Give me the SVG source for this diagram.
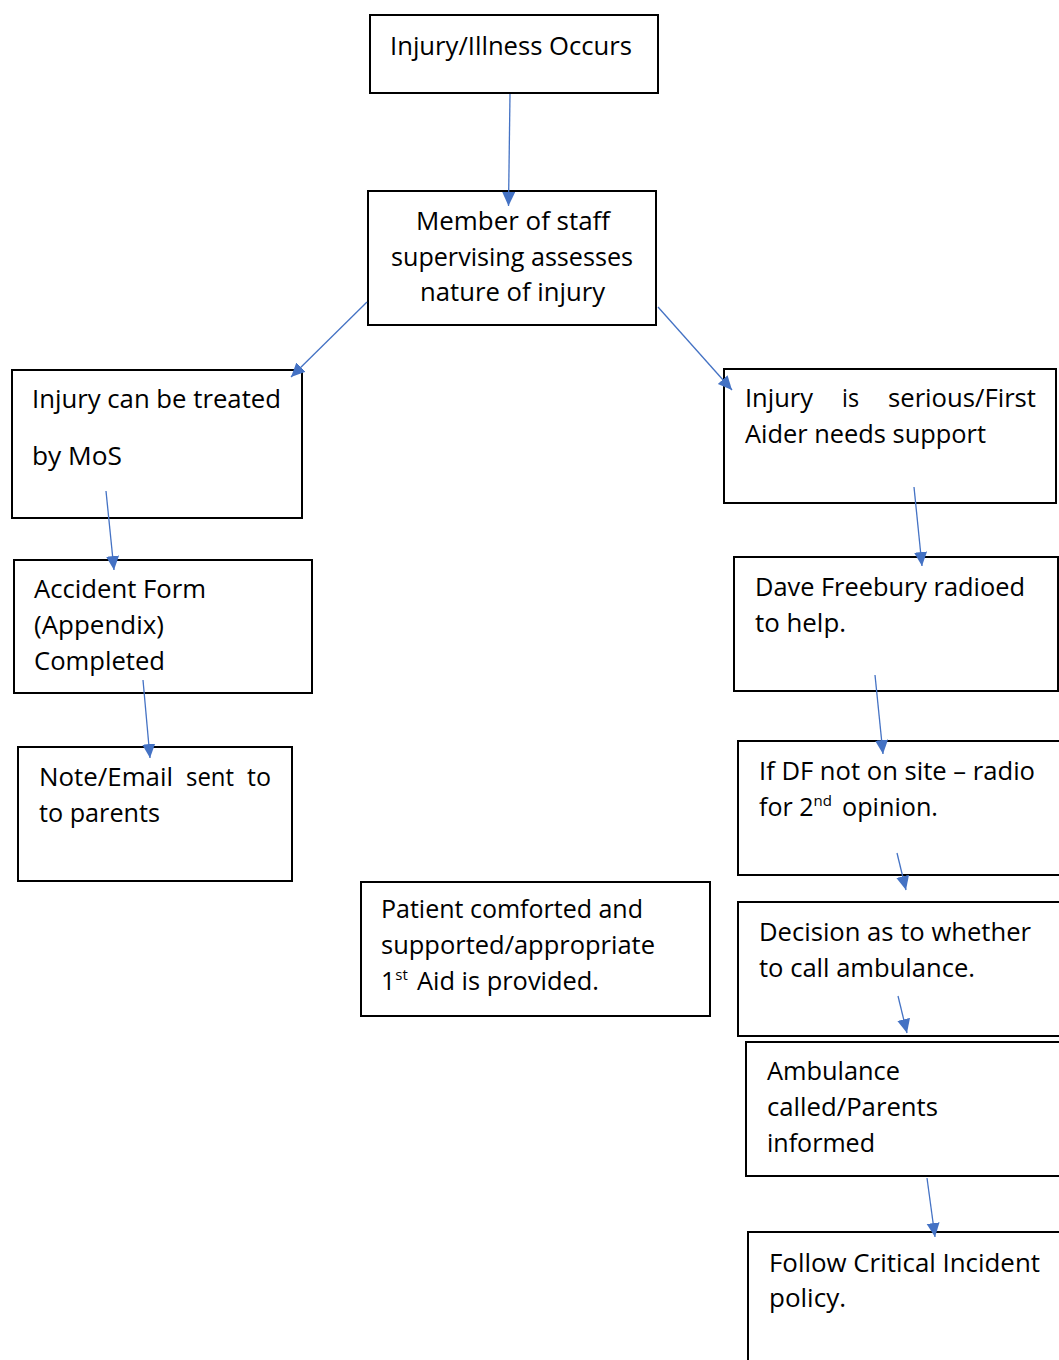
<svg xmlns="http://www.w3.org/2000/svg" width="1059" height="1360" viewBox="0 0 1059 1360">
<defs>
<style>
.box{fill:#fff;stroke:#000;stroke-width:2}
.t{font-family:"Open Sans","Noto Sans","Liberation Sans",sans-serif;font-size:25px;fill:#000}
.sup{font-family:"Open Sans","Noto Sans","Liberation Sans",sans-serif;font-size:15px;fill:#000}
.c{stroke:#4472C4;stroke-width:1.3;fill:none;marker-end:url(#ah)}
</style>
<marker id="ah" markerUnits="userSpaceOnUse" markerWidth="16" markerHeight="14" refX="14" refY="6.5" orient="auto">
<path d="M0,0 L14,6.5 L0,13 Z" fill="#4472C4"/>
</marker>
</defs>
<rect width="1059" height="1360" fill="#fff"/>

<g id="n1">
<rect class="box" x="370" y="15" width="288" height="78"/>
<text class="t" x="390" y="55" textLength="242" lengthAdjust="spacingAndGlyphs">Injury/Illness Occurs</text>
</g>

<g id="n2">
<rect class="box" x="368" y="191" width="288" height="134"/>
<text class="t" x="416" y="230" textLength="194" lengthAdjust="spacingAndGlyphs">Member of staff</text>
<text class="t" x="391" y="266" textLength="242" lengthAdjust="spacingAndGlyphs">supervising assesses</text>
<text class="t" x="420" y="301" textLength="185" lengthAdjust="spacingAndGlyphs">nature of injury</text>
</g>

<g id="n3">
<rect class="box" x="12" y="370" width="290" height="148"/>
<text class="t" x="32" y="408" textLength="249" lengthAdjust="spacingAndGlyphs">Injury can be treated</text>
<text class="t" x="32" y="465" textLength="90" lengthAdjust="spacingAndGlyphs">by MoS</text>
</g>

<g id="n4">
<rect class="box" x="14" y="560" width="298" height="133"/>
<text class="t" x="34" y="598" textLength="172" lengthAdjust="spacingAndGlyphs">Accident Form</text>
<text class="t" x="34" y="634" textLength="130" lengthAdjust="spacingAndGlyphs">(Appendix)</text>
<text class="t" x="34" y="670" textLength="131" lengthAdjust="spacingAndGlyphs">Completed</text>
</g>

<g id="n5">
<rect class="box" x="18" y="747" width="274" height="134"/>
<text class="t" x="39" y="786" textLength="134" lengthAdjust="spacingAndGlyphs">Note/Email</text>
<text class="t" x="186" y="786" textLength="48" lengthAdjust="spacingAndGlyphs">sent</text>
<text class="t" x="247" y="786" textLength="24" lengthAdjust="spacingAndGlyphs">to</text>
<text class="t" x="39" y="822" textLength="121" lengthAdjust="spacingAndGlyphs">to parents</text>
</g>

<g id="n6">
<rect class="box" x="361" y="882" width="349" height="134"/>
<text class="t" x="381" y="918" textLength="262" lengthAdjust="spacingAndGlyphs">Patient comforted and</text>
<text class="t" x="381" y="954" textLength="274" lengthAdjust="spacingAndGlyphs">supported/appropriate</text>
<text class="t" x="381" y="990">1<tspan class="sup" dy="-10">st</tspan></text>
<text class="t" x="417" y="990" textLength="182" lengthAdjust="spacingAndGlyphs">Aid is provided.</text>
</g>

<g id="n7">
<rect class="box" x="724" y="369" width="332" height="134"/>
<text class="t" x="745" y="407" textLength="68" lengthAdjust="spacingAndGlyphs">Injury</text>
<text class="t" x="842" y="407" textLength="17" lengthAdjust="spacingAndGlyphs">is</text>
<text class="t" x="888" y="407" textLength="148" lengthAdjust="spacingAndGlyphs">serious/First</text>
<text class="t" x="745" y="443" textLength="241" lengthAdjust="spacingAndGlyphs">Aider needs support</text>
</g>

<g id="n8">
<rect class="box" x="734" y="557" width="324" height="134"/>
<text class="t" x="755" y="596" textLength="270" lengthAdjust="spacingAndGlyphs">Dave Freebury radioed</text>
<text class="t" x="755" y="632" textLength="91" lengthAdjust="spacingAndGlyphs">to help.</text>
</g>

<g id="n9">
<rect class="box" x="738" y="741" width="340" height="134"/>
<text class="t" x="759" y="780" textLength="276" lengthAdjust="spacingAndGlyphs">If DF not on site – radio</text>
<text class="t" x="759" y="816">for 2<tspan class="sup" dy="-10">nd</tspan></text>
<text class="t" x="842" y="816" textLength="96" lengthAdjust="spacingAndGlyphs">opinion.</text>
</g>

<g id="n10">
<rect class="box" x="738" y="902" width="340" height="134"/>
<text class="t" x="759" y="941" textLength="272" lengthAdjust="spacingAndGlyphs">Decision as to whether</text>
<text class="t" x="759" y="977" textLength="216" lengthAdjust="spacingAndGlyphs">to call ambulance.</text>
</g>

<g id="n11">
<rect class="box" x="746" y="1042" width="340" height="134"/>
<text class="t" x="767" y="1080" textLength="133" lengthAdjust="spacingAndGlyphs">Ambulance</text>
<text class="t" x="767" y="1116" textLength="171" lengthAdjust="spacingAndGlyphs">called/Parents</text>
<text class="t" x="767" y="1152" textLength="108" lengthAdjust="spacingAndGlyphs">informed</text>
</g>

<g id="n12">
<rect class="box" x="748" y="1232" width="340" height="160"/>
<text class="t" x="769" y="1272" textLength="271" lengthAdjust="spacingAndGlyphs">Follow Critical Incident</text>
<text class="t" x="769" y="1307" textLength="77" lengthAdjust="spacingAndGlyphs">policy.</text>
</g>

<g id="connectors">
<line class="c" x1="510" y1="94" x2="508.5" y2="206"/>
<line class="c" x1="367" y1="302" x2="291" y2="377"/>
<line class="c" x1="658" y1="307" x2="732" y2="390"/>
<line class="c" x1="106" y1="491" x2="114" y2="570"/>
<line class="c" x1="143" y1="680" x2="150" y2="758"/>
<line class="c" x1="914" y1="487" x2="922" y2="566"/>
<line class="c" x1="875" y1="675" x2="883" y2="754"/>
<line class="c" x1="897" y1="853" x2="906" y2="890"/>
<line class="c" x1="898" y1="996" x2="907" y2="1033"/>
<line class="c" x1="927" y1="1178" x2="935" y2="1237"/>
</g>
</svg>
